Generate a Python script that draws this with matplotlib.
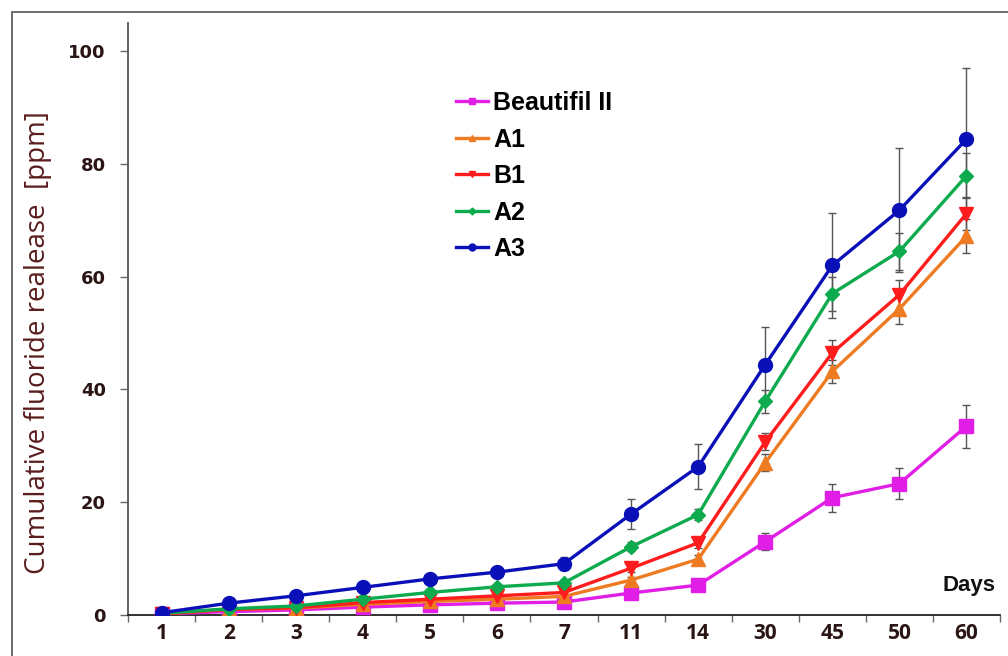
import numpy as np
import matplotlib.pyplot as plt
from matplotlib.patches import Rectangle

# Data
days = ["1", "2", "3", "4", "5", "6", "7", "11", "14", "30", "45", "50", "60"]

beautifil = [0.2, 0.6, 0.9, 1.4, 1.8, 2.1, 2.3, 3.9, 5.3, 13.0, 20.8, 23.3, 33.5]
a1 = [0.2, 1.0, 1.2, 1.9, 2.4, 2.8, 3.3, 6.2, 9.9, 27.0, 43.2, 54.3, 67.2]
b1 = [0.2, 1.0, 1.3, 2.2, 2.8, 3.4, 4.0, 8.3, 12.8, 30.7, 46.5, 56.8, 71.2]
a2 = [0.3, 1.1, 1.6, 2.8, 4.0, 5.0, 5.7, 12.1, 17.8, 37.9, 57.0, 64.5, 77.9]
a3 = [0.4, 2.1, 3.4, 4.9, 6.4, 7.6, 9.1, 17.9, 26.3, 44.4, 62.0, 71.8, 84.4]

beautifil_err = [0.1, 0.2, 0.2, 0.3, 0.3, 0.3, 0.3, 0.5, 0.6, 1.5, 2.5, 2.7, 3.8]
a1_err = [0.1, 0.2, 0.2, 0.3, 0.3, 0.4, 0.4, 0.6, 0.8, 1.5, 2.0, 2.6, 3.0]
b1_err = [0.1, 0.2, 0.2, 0.3, 0.3, 0.4, 0.4, 0.7, 0.9, 1.5, 2.2, 2.7, 3.0]
a2_err = [0.1, 0.2, 0.3, 0.3, 0.4, 0.5, 0.5, 0.8, 1.0, 2.0, 3.0, 3.3, 4.0]
a3_err = [0.1, 0.3, 0.4, 0.5, 0.6, 0.8, 1.2, 2.7, 4.0, 6.7, 9.3, 11.0, 12.6]

series = [
    ("Beautifil II", beautifil, beautifil_err, "#e01ee6", "s", 10),
    ("A1", a1, a1_err, "#ee7a22", "^", 10),
    ("B1", b1, b1_err, "#ff1c1c", "v", 10),
    ("A2", a2, a2_err, "#0daa4e", "D", 7),
    ("A3", a3, a3_err, "#0a10b8", "o", 10),
]

x = np.arange(len(days))

fig = plt.figure(figsize=(10.08, 6.56), dpi=100)
ax = fig.add_axes([128/1008, 41/656, 872/1008, 592/656])

# outer frame of the original figure
fig.patches.append(Rectangle((12/1008, -0.1), 1.2, (656-12)/656 + 0.1,
                             transform=fig.transFigure, fill=False,
                             edgecolor="#606060", linewidth=1.3))

for name, vals, err, color, marker, ms in series:
    ax.errorbar(x, vals, yerr=err, fmt="none", ecolor="#555555",
                elinewidth=1.0, capsize=3, capthick=1.0, zorder=2)
    ax.plot(x, vals, color=color, marker=marker, markersize=ms,
            linewidth=2.4, label=name, zorder=3)

ax.set_xlim(-0.5, len(days) - 0.5)
ax.set_ylim(0, 105)

ax.set_yticks([0, 20, 40, 60, 80, 100])
ax.set_yticklabels(["0", "20", "40", "60", "80", "100"],
                   fontsize=13, fontweight="bold", color="#2a1414",
                   family="DejaVu Sans")
ax.tick_params(axis="y", direction="out", length=6, width=1, color="#666666", pad=10)

ax.set_xticks(x)
ax.set_xticklabels(days, fontsize=15, fontweight="bold", color="#2a1414",
                   family="Open Sans")
ax.set_xticks(np.arange(-0.5, len(days), 1), minor=True)
ax.tick_params(axis="x", which="major", length=0, pad=6)
ax.tick_params(axis="x", which="minor", direction="out", length=5,
               width=1, color="#666666")

for side in ["top", "right"]:
    ax.spines[side].set_visible(False)
ax.spines["left"].set_color("#555555")
ax.spines["bottom"].set_color("#222222")
ax.spines["left"].set_linewidth(1.3)
ax.spines["bottom"].set_linewidth(1.3)

ax.set_ylabel("Cumulative fluoride realease  [ppm]", fontsize=20,
              color="#5a1c1c", family="Open Sans")
ax.yaxis.set_label_coords(-0.087, 0.46)

ax.text(0.965, 0.05, "Days", transform=ax.transAxes, ha="center",
        va="center", fontsize=16, fontweight="bold",
        family="Liberation Sans", color="#111111")

leg = ax.legend(loc="upper left", bbox_to_anchor=(0.35, 0.923), frameon=False,
                prop={"family": "Liberation Sans", "weight": "bold", "size": 18},
                handlelength=1.3, handletextpad=0.2, labelspacing=0.5,
                markerscale=0.5)

fig.savefig("out.png", dpi=100)
